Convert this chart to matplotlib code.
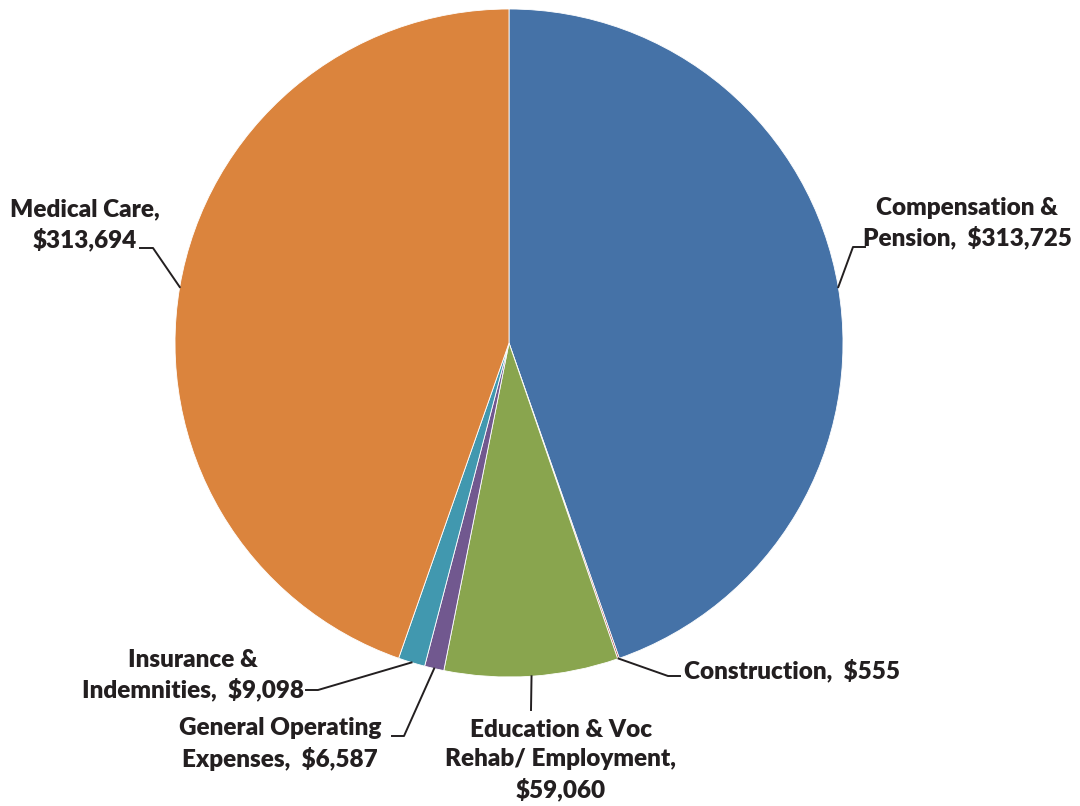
import numpy as np
import matplotlib.pyplot as plt

labels = ['Compensation &\nPension,  $313,725', 'Construction,  $555',
          'Education & Voc\nRehab/ Employment,\n$59,060',
          'General Operating\nExpenses,  $6,587',
          'Insurance &\nIndemnities,  $9,098', 'Medical Care,\n$313,694']
values = [313725, 555, 59060, 6587, 9098, 313694]
colors = ['#4572a7', '#aa4643', '#89a54e', '#71588f', '#4198af', '#db843d']

# label centre, leader elbow and leader end (pixels in the 1080x806 canvas)
label_xy = [(967, 223), (792, 670), (561, 760), (280, 744), (193, 675), (85, 225)]
elbows = [(853, 247), (668, 676), (531, 710), (404, 736), (318, 690), (153, 248)]
ends = [(865, 247), (680, 676), None, (392, 736), (306, 690), (140, 248)]

plt.rcParams['font.family'] = ['Lato', 'DejaVu Sans']

W, H = 1080, 806
cx, cy, r = 509, 343, 334
fig = plt.figure(figsize=(W / 100, H / 100), dpi=100)
ax = fig.add_axes([(cx - r) / W, (H - cy - r) / H, 2 * r / W, 2 * r / H])


def to_data(p):
    return (p[0] - cx) / r, (cy - p[1]) / r


wedges, _ = ax.pie(values, colors=colors, startangle=90, counterclock=False,
                   radius=1, wedgeprops=dict(edgecolor='white', linewidth=0.6))
ax.set_xlim(-1, 1)
ax.set_ylim(-1, 1)
ax.set_aspect('equal')
ax.axis('off')

for w, lab, txy, el, en in zip(wedges, labels, label_xy, elbows, ends):
    mid = np.deg2rad((w.theta1 + w.theta2) / 2)
    pts = [(np.cos(mid), np.sin(mid)), to_data(el)]
    if en is not None:
        pts.append(to_data(en))
    xs, ys = zip(*pts)
    ax.plot(xs, ys, color='#231f20', lw=1.4, clip_on=False)
    tx, ty = to_data(txy)
    ax.text(tx, ty, lab, ha='center', va='center', fontsize=17.5, fontweight='heavy',
            color='#231f20', linespacing=1.37)

fig.savefig('out.png', dpi=100)
